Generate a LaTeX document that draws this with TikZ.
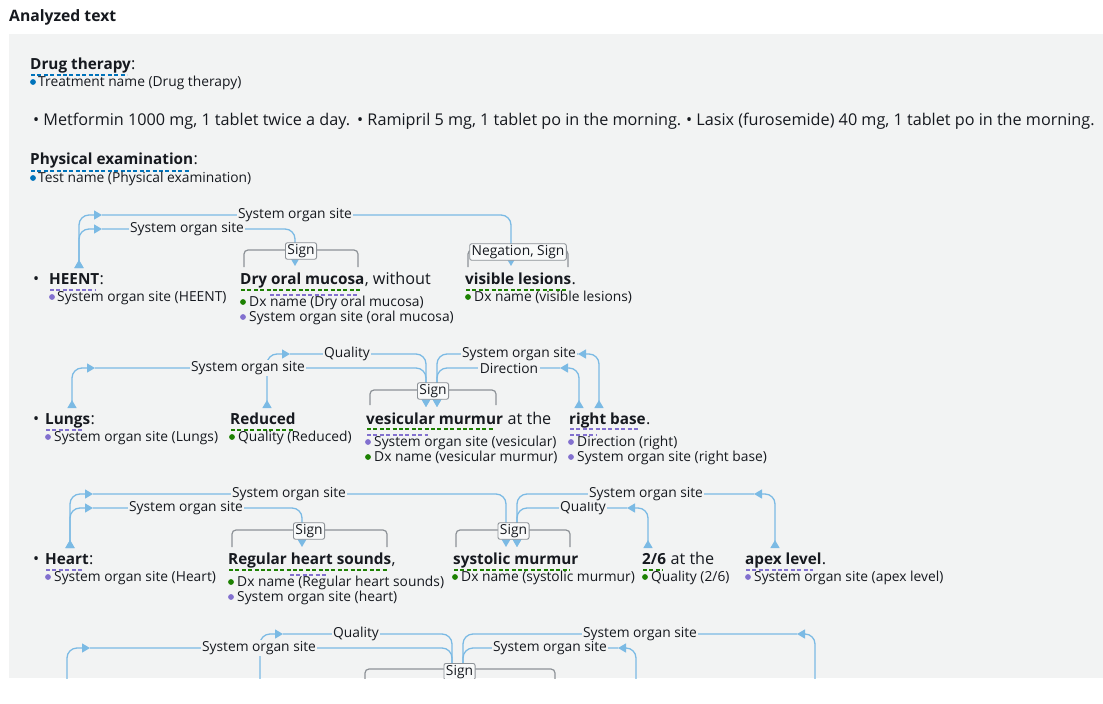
\documentclass[tikz,border=0pt]{standalone}
\usepackage{fontspec}
\setmainfont{Open Sans}
\usetikzlibrary{arrows.meta,calc}

\definecolor{panel}{HTML}{F2F3F3}
\definecolor{ink}{HTML}{16191F}
\definecolor{relblue}{HTML}{7BBAE4}
\definecolor{bracketgray}{HTML}{8D9297}
\definecolor{dxgreen}{HTML}{1D8102}
\definecolor{sitepurple}{HTML}{8270CF}
\definecolor{treatblue}{HTML}{0073BB}

\tikzset{
  head/.style={inner sep=0pt, anchor=base west, text=ink, font=\fontsize{15.7}{18}\selectfont\bfseries},
  txt/.style={inner sep=0pt, anchor=base west, text=ink, font=\fontsize{16.2}{18}\selectfont},
  ent/.style={inner sep=0pt, anchor=base west, text=ink, font=\fontsize{15.3}{18}\selectfont\bfseries},
  tag/.style={inner sep=0pt, anchor=base west, text=ink, font=\fontsize{13.8}{15}\selectfont},
  rellabel/.style={fill=panel, inner xsep=1.5pt, inner ysep=1pt, text=ink, font=\fontsize{13.8}{15}\selectfont},
  relline/.style={draw=relblue, line width=1.3pt, rounded corners=10pt},
  bracket/.style={draw=bracketgray, line width=1.2pt, rounded corners=4pt},
  signbox/.style={draw=bracketgray, fill=white!55!panel, rounded corners=2pt, line width=0.9pt,
    inner xsep=2pt, inner ysep=0pt, minimum height=16.5pt, text=ink, font=\fontsize{13.8}{15}\selectfont},
  uline/.style={line width=2.6pt, dash pattern=on 4pt off 2.4pt},
}

% relation connector: start marker, arrow at the mid point, arrow into the target
\newcommand\relink[3]{%
  \draw[relline,{Triangle[reversed,width=9pt,length=8pt]}-{Triangle[width=9pt,length=8pt]}] (#1) |- (#2);
  \draw[relline,-{Triangle[width=9pt,length=8pt]}] (#2) -| (#3);}
% coloured dot in front of a category tag
\newcommand\tagdot[2]{\fill[#1] (#2) circle (2.9);}

\begin{document}
\begin{tikzpicture}[x=1pt,y=-1pt]
\fill[white] (0,0) rectangle (1103,704);
\useasboundingbox (0,0) rectangle (1103,704);

\node[head] (title) at (9,21) {Analyzed text};
\fill[panel] (9,34) rectangle (1103,678);

% ---- Drug therapy
\node[ent] (drug) at (30,69) {Drug therapy};
\node[txt] at (drug.base east) {:};
\draw[uline,treatblue] (31,75) -- (127,75);
\tagdot{treatblue}{33,82}
\node[tag] (drugtag) at (38,86) {Treatment name (Drug therapy)};

\node[txt] (med1) at (33,125) {\textbullet\ Metformin 1000 mg, 1 tablet twice a day.};
\node[txt] (med2) at (357,125) {\textbullet\ Ramipril 5 mg, 1 tablet po in the morning.};
\node[txt] (med3) at (686,125) {\textbullet\ Lasix (furosemide) 40 mg, 1 tablet po in the morning.};

% ---- Physical examination
\node[ent] (phys) at (30,164) {Physical examination};
\node[txt] at (phys.base east) {:};
\draw[uline,treatblue] (31,171) -- (190,171);
\tagdot{treatblue}{33,178}
\node[tag] (phystag) at (38,182) {Test name (Physical examination)};

% ---- HEENT row
\node[txt] at (33,284) {\textbullet};
\node[ent] (heent) at (49,284) {HEENT};
\node[txt] at (heent.base east) {:};
\draw[uline,sitepurple] (50,290) -- (95,290);
\tagdot{sitepurple}{52,297}
\node[tag] at (57,301) {System organ site (HEENT)};

\node[ent] (dry) at (240,284) {Dry oral mucosa};
\node[txt] at (dry.base east) {, without};
\draw[uline,dxgreen] (241,290) -- (360,290);
\draw[uline,sitepurple] (270,295) -- (357,295);
\tagdot{dxgreen}{243,302}
\node[tag] at (249,306) {Dx name (Dry oral mucosa)};
\tagdot{sitepurple}{243,317}
\node[tag] at (249,321) {System organ site (oral mucosa)};

\node[ent] (lesions) at (465,284) {visible lesions};
\node[txt] at (lesions.base east) {.};
\draw[uline,dxgreen] (466,290) -- (568,290);
\tagdot{dxgreen}{468,297}
\node[tag] at (474,301) {Dx name (visible lesions)};

\draw[bracket] (244,267) -- (244,250) -- (358,250) -- (358,267);
\draw[bracket] (468,267) -- (468,250) -- (568,250) -- (568,267);

\coordinate (heent-s) at (79,268);
\coordinate (heent-m1) at (102,229);
\coordinate (heent-m2) at (102,215);
\coordinate (dry-t) at (295,266);
\coordinate (lesions-t) at (511,266);
\relink{heent-s}{heent-m1}{dry-t}
\relink{heent-s}{heent-m2}{lesions-t}
\node[rellabel] at (187,229) {System organ site};
\node[rellabel] at (295,215) {System organ site};
\node[signbox] at (301,251) {Sign};
\node[signbox] at (518,252) {Negation, Sign};

% ---- Lungs row
\node[txt] at (33,424) {\textbullet};
\node[ent] (lungs) at (45,424) {Lungs};
\node[txt] at (lungs.base east) {:};
\draw[uline,sitepurple] (46,430) -- (83,430);
\tagdot{sitepurple}{48,437}
\node[tag] at (54,441) {System organ site (Lungs)};

\node[ent] (reduced) at (230,424) {Reduced};
\draw[uline,dxgreen] (231,430) -- (293,430);
\tagdot{dxgreen}{232,437}
\node[tag] at (238,441) {Quality (Reduced)};

\node[ent] (vesic) at (366,424) {vesicular murmur};
\node[txt] at (vesic.base east) {\ at the};
\draw[uline,dxgreen] (367,429) -- (493,429);
\draw[uline,sitepurple] (367,435) -- (428,435);
\tagdot{sitepurple}{368,442}
\node[tag] at (374,446) {System organ site (vesicular)};
\tagdot{dxgreen}{368,457}
\node[tag] at (374,461) {Dx name (vesicular murmur)};

\node[ent] (rbase) at (569,424) {right base};
\node[txt] at (rbase.base east) {.};
\draw[uline,sitepurple] (570,429) -- (638,429);
\draw[uline,sitepurple] (570,435) -- (597,435);
\tagdot{sitepurple}{571,442}
\node[tag] at (577,446) {Direction (right)};
\tagdot{sitepurple}{571,457}
\node[tag] at (577,461) {System organ site (right base)};

\draw[bracket] (370,405) -- (370,390) -- (496,390) -- (496,405);

\coordinate (lungs-s) at (72,408);
\coordinate (lungs-m) at (95,368);
\coordinate (reduced-s) at (267,408);
\coordinate (reduced-m) at (290,354);
\coordinate (vesic-l) at (426,407);
\coordinate (vesic-r) at (437,407);
\coordinate (rbase-s1) at (599,408);
\coordinate (rbase-m1) at (578,354);
\coordinate (rbase-s2) at (579,408);
\coordinate (rbase-m2) at (560,368);
\relink{lungs-s}{lungs-m}{vesic-l}
\relink{reduced-s}{reduced-m}{vesic-l}
\relink{rbase-s1}{rbase-m1}{vesic-r}
\relink{rbase-s2}{rbase-m2}{vesic-r}
\node[rellabel] at (248,368) {System organ site};
\node[rellabel] at (347,354) {Quality};
\node[rellabel] at (519,354) {System organ site};
\node[rellabel] at (509,368) {Direction};
\node[signbox] at (433,391) {Sign};

% ---- Heart row
\node[txt] at (33,564) {\textbullet};
\node[ent] (heart) at (45,564) {Heart};
\node[txt] at (heart.base east) {:};
\draw[uline,sitepurple] (46,570) -- (83,570);
\tagdot{sitepurple}{48,577}
\node[tag] at (54,581) {System organ site (Heart)};

\node[ent] (regular) at (228,564) {Regular heart sounds};
\node[txt] at (regular.base east) {,};
\draw[uline,dxgreen] (229,570) -- (388,570);
\draw[uline,sitepurple] (290,575) -- (327,575);
\tagdot{dxgreen}{231,582}
\node[tag] at (237,586) {Dx name (Regular heart sounds)};
\tagdot{sitepurple}{231,597}
\node[tag] at (237,601) {System organ site (heart)};

\node[ent] (systolic) at (453,564) {systolic murmur};
\draw[uline,dxgreen] (454,570) -- (570,570);
\tagdot{dxgreen}{455,577}
\node[tag] at (461,581) {Dx name (systolic murmur)};

\node[ent] (twosix) at (642,564) {2/6};
\node[txt] at (twosix.base east) {\ at the};
\draw[uline,dxgreen] (643,570) -- (663,570);
\tagdot{dxgreen}{645,577}
\node[tag] at (651,581) {Quality (2/6)};

\node[ent] (apex) at (745,564) {apex level};
\node[txt] at (apex.base east) {.};
\draw[uline,sitepurple] (746,570) -- (813,570);
\tagdot{sitepurple}{748,577}
\node[tag] at (754,581) {System organ site (apex level)};

\draw[bracket] (232,547) -- (232,530) -- (387,530) -- (387,547);
\draw[bracket] (456,547) -- (456,530) -- (570,530) -- (570,547);

\coordinate (heart-s) at (70,548);
\coordinate (heart-m1) at (93,508);
\coordinate (heart-m2) at (93,494);
\coordinate (regular-t) at (302,547);
\coordinate (systolic-l) at (506,547);
\coordinate (systolic-r) at (517,547);
\coordinate (twosix-s) at (648,548);
\coordinate (twosix-m) at (627,508);
\coordinate (apex-s) at (775,548);
\coordinate (apex-m) at (754,494);
\relink{heart-s}{heart-m1}{regular-t}
\relink{heart-s}{heart-m2}{systolic-l}
\relink{twosix-s}{twosix-m}{systolic-r}
\relink{apex-s}{apex-m}{systolic-r}
\node[rellabel] at (186,508) {System organ site};
\node[rellabel] at (289,494) {System organ site};
\node[rellabel] at (583,508) {Quality};
\node[rellabel] at (646,494) {System organ site};
\node[signbox] at (309,531) {Sign};
\node[signbox] at (513.5,531) {Sign};

% ---- next row, cut off by the panel edge
\begin{scope}
\clip (9,34) rectangle (1103,678);
\draw[bracket] (365,700) -- (365,669) -- (555,669) -- (555,700);
\coordinate (r4-a) at (67,700);
\coordinate (r4-am) at (90,648);
\coordinate (r4-b) at (260,700);
\coordinate (r4-bm) at (283,634);
\coordinate (r4-c) at (815,700);
\coordinate (r4-cm) at (797,634);
\coordinate (r4-d) at (636,700);
\coordinate (r4-dm) at (618,648);
\coordinate (r4-tl) at (452,700);
\coordinate (r4-tr) at (463,700);
\relink{r4-a}{r4-am}{r4-tl}
\relink{r4-b}{r4-bm}{r4-tl}
\relink{r4-c}{r4-cm}{r4-tr}
\relink{r4-d}{r4-dm}{r4-tr}
\node[rellabel] at (259,648) {System organ site};
\node[rellabel] at (356,634) {Quality};
\node[rellabel] at (640,634) {System organ site};
\node[rellabel] at (550,648) {System organ site};
\node[signbox,anchor=north] at (459.5,663) {Sign};
\end{scope}
\end{tikzpicture}
\end{document}
